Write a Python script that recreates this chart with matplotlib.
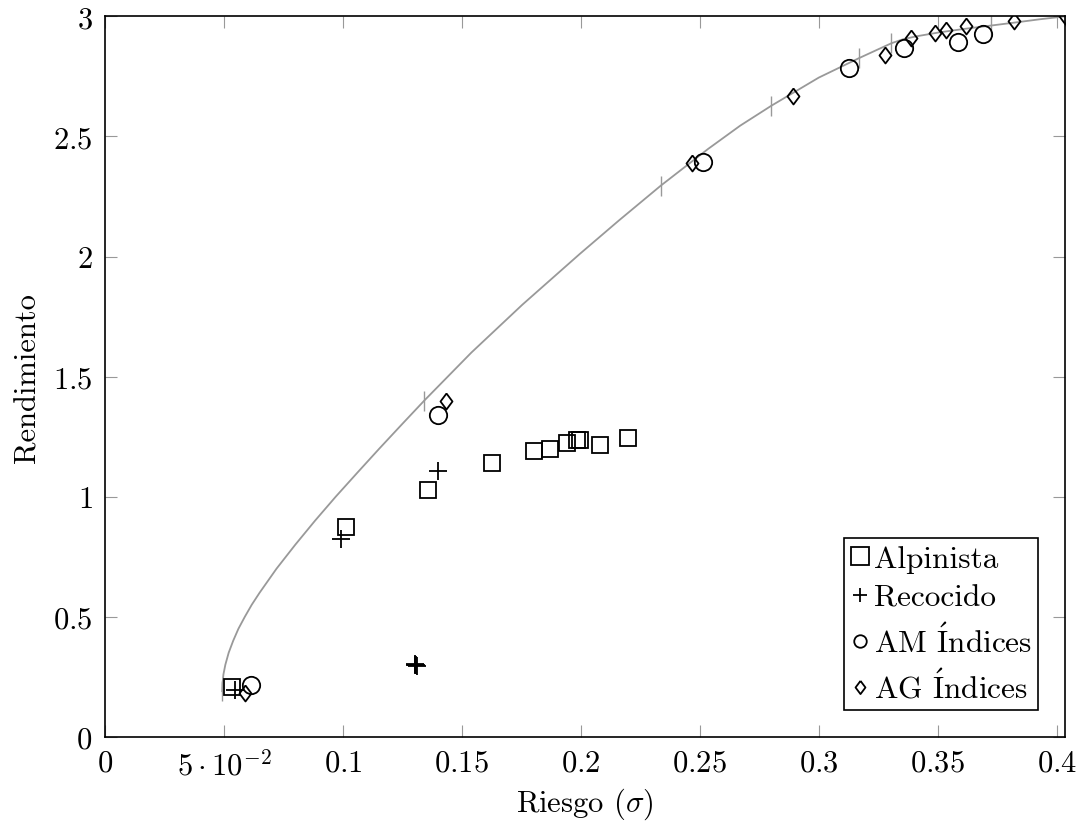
import matplotlib
matplotlib.use("Agg")
import matplotlib.pyplot as plt
from matplotlib.ticker import FixedLocator

plt.rcParams['font.family'] = ['cmr10', 'DejaVu Serif']
plt.rcParams['mathtext.fontset'] = 'cm'
plt.rcParams['axes.formatter.use_mathtext'] = True

# frontera eficiente
frontier_x = [0.0493, 0.0494, 0.0498, 0.0506, 0.0520, 0.0539, 0.0561, 0.0588, 0.0617, 0.0650,
              0.0721, 0.0800, 0.0883, 0.0970, 0.1061, 0.1153, 0.1247, 0.1342, 0.1540,
              0.1755, 0.1996, 0.2160, 0.2336, 0.2535, 0.2670, 0.2801, 0.3000, 0.3169,
              0.3305, 0.3355, 0.3410, 0.3510, 0.3620, 0.3725, 0.3829, 0.3929, 0.4034]
frontier_y = [0.19, 0.22, 0.26, 0.30, 0.35, 0.40, 0.45, 0.50, 0.55, 0.60,
              0.70, 0.80, 0.90, 1.00, 1.10, 1.20, 1.30, 1.40, 1.60,
              1.80, 2.011, 2.15, 2.295, 2.448, 2.545, 2.628, 2.745, 2.826,
              2.888, 2.905, 2.917, 2.934, 2.949, 2.962, 2.975, 2.988, 3.0]
frontier_marks = [0, 17, 22, 25, 27, 28, 33, 36]

alp_x = [0.0534, 0.1015, 0.1358, 0.1625, 0.1804, 0.1871, 0.1940, 0.1986, 0.1996, 0.2081, 0.2200]
alp_y = [0.208, 0.873, 1.028, 1.139, 1.189, 1.198, 1.223, 1.234, 1.238, 1.216, 1.244]

rec_x = [0.0546, 0.0992, 0.1398, 0.1302, 0.1307, 0.1311, 0.1305]
rec_y = [0.195, 0.825, 1.109, 0.300, 0.297, 0.294, 0.303]

am_x = [0.0612, 0.1398, 0.2514, 0.3126, 0.3358, 0.3585, 0.3690]
am_y = [0.214, 1.341, 2.393, 2.784, 2.868, 2.892, 2.927]

ag_x = [0.0588, 0.1434, 0.2469, 0.2892, 0.3280, 0.3388, 0.3489, 0.3535, 0.3620, 0.3821, 0.4034]
ag_y = [0.183, 1.398, 2.388, 2.667, 2.839, 2.911, 2.929, 2.943, 2.958, 2.979, 3.0]

xticks = [0, 0.05, 0.1, 0.15, 0.2, 0.25, 0.3, 0.35, 0.4]
xticklabels = ['$0$', r'$5\cdot10^{-2}$', '$0.1$', '$0.15$', '$0.2$', '$0.25$', '$0.3$', '$0.35$', '$0.4$']
yticks = [0, 0.5, 1, 1.5, 2, 2.5, 3]
yticklabels = ['$0$', '$0.5$', '$1$', '$1.5$', '$2$', '$2.5$', '$3$']

diamond = [(0, 1), (0.75, 0), (0, -1), (-0.75, 0), (0, 1)]

fig = plt.figure(figsize=(10.82, 8.29), dpi=100)
ax = fig.add_axes([0.097, 0.110, 0.887, 0.869])

ax.plot(frontier_x, frontier_y, color='#999999', lw=1.3, marker='|', ms=14, mew=1.0,
        markevery=frontier_marks, zorder=2)

mk = dict(ls='none', mfc='none', mec='black', mew=1.3, zorder=3)
ax.plot(alp_x, alp_y, marker='s', ms=12, label='Alpinista', **mk)
ax.plot(rec_x, rec_y, marker='+', ms=13, label='Recocido', **mk)
ax.plot(am_x, am_y, marker='o', ms=12.5, label=r'AM $\mathrm{\acute{I}}$ndices', **mk)
ax.plot(ag_x, ag_y, marker=diamond, ms=11.5, label=r'AG $\mathrm{\acute{I}}$ndices', **mk)

ax.set_xlim(0, 0.4034)
ax.set_ylim(0, 3.0)
ax.xaxis.set_major_locator(FixedLocator(xticks))
ax.set_xticklabels(xticklabels)
ax.yaxis.set_major_locator(FixedLocator(yticks))
ax.set_yticklabels(yticklabels)
ax.tick_params(direction='in', length=8.5, width=0.8, color='#999999',
               top=True, right=True, labelsize=22, pad=9)

for s in ax.spines.values():
    s.set_linewidth(1.2)

ax.set_xlabel(r'Riesgo ($\sigma$)', fontsize=22, labelpad=4)
ax.set_ylabel('Rendimiento', fontsize=22, labelpad=8)

leg = ax.legend(loc='lower right', fontsize=22.5, handlelength=0.6, handletextpad=0.15,
                borderaxespad=0.85, borderpad=0.2, labelspacing=0.36, fancybox=False,
                edgecolor='black', framealpha=1)
leg.get_frame().set_linewidth(1.2)
for h, s in zip(leg.legend_handles, [13, 9.5, 9, 9.5]):
    h.set_markersize(s)

fig.savefig('out.png', dpi=100)
